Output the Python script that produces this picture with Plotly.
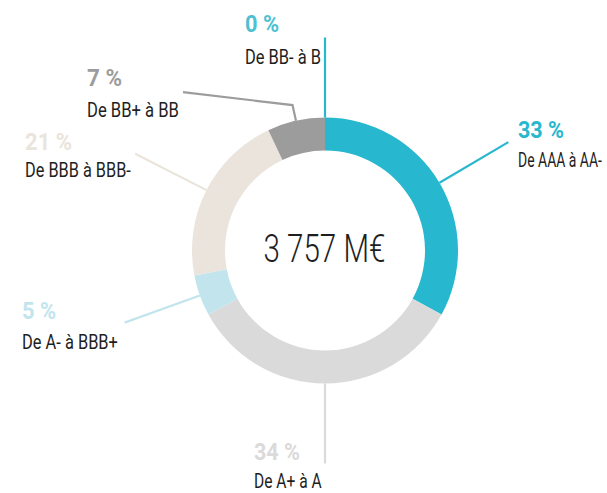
import json
import math
import plotly.graph_objects as go

# Répartition par notation
categories = ["De AAA à AA-", "De A+ à A", "De A- à BBB+", "De BBB à BBB-", "De BB+ à BB", "De BB- à B"]
values = [33, 34, 5, 21, 7, 0]
colors = ["#27b8cf", "#dadada", "#c2e5ed", "#eae4dc", "#9c9c9c", "#27b8cf"]
pct_colors = ["#27b8cf", "#dadada", "#c2e5ed", "#eae4dc", "#9c9c9c", "#4fbfd3"]
total_label = "3 757 M€"

W, H = 607, 493
CX, CY, R = 325, 250.5, 133
LEAD = 80  # leader line length (px)

FONT = "Roboto, Liberation Sans, sans-serif"

# label layout per category: left x, y of percentage, y of caption,
# set width of percentage and of caption (condensed typesetting)
label_pos = [
    (516, 130, 160, 46, 84),
    (252, 452, 481, 46, 68),
    (20, 311, 342, 34, 96),
    (23, 142, 170, 47, 106),
    (85, 78, 110, 35, 92),
    (243, 24, 57, 34, 76),
]
CENTER_WIDTH = 122


def px(x):
    return x / W


def py(y):
    return 1 - y / H


fig = go.Figure(go.Pie(
    labels=categories,
    values=values,
    hole=100 / 133,
    sort=False,
    direction="clockwise",
    rotation=0,
    marker=dict(colors=colors, line=dict(width=0)),
    textinfo="none",
    hoverinfo="label+percent",
    domain=dict(x=[px(CX - R), px(CX + R)], y=[py(CY + R), py(CY - R)]),
    showlegend=False,
))

shapes = []
annotations = []
fits = []
total = sum(values)
cum = 0
for i, (cat, v) in enumerate(zip(categories, values)):
    mid = (cum + v / 2) / total
    if v == 0 and cum >= total:
        mid = 0.0
    cum += v
    ang = 2 * math.pi * mid
    sx, sy = CX + R * math.sin(ang), CY - R * math.cos(ang)
    if cat == "De BB+ à BB":
        # short radial segment, then elbow toward the label
        ex, ey = CX + (R + 16) * math.sin(ang), CY - (R + 16) * math.cos(ang)
        fx, fy = label_pos[i][0] + 98, ey - 13
        path = f"M {px(sx)},{py(sy)} L {px(ex)},{py(ey)} L {px(fx)},{py(fy)}"
    else:
        ex, ey = CX + (R + LEAD) * math.sin(ang), CY - (R + LEAD) * math.cos(ang)
        path = f"M {px(sx)},{py(sy)} L {px(ex)},{py(ey)}"
    shapes.append(dict(type="path", xref="paper", yref="paper", path=path,
                       line=dict(color=colors[i], width=2.2)))
    lx, ly1, ly2, w1, w2 = label_pos[i]
    annotations.append(dict(x=px(lx), y=py(ly1), xref="paper", yref="paper",
                            text=f"<b>{v} %</b>", showarrow=False,
                            xanchor="left", yanchor="middle",
                            font=dict(family=FONT, size=24, color=pct_colors[i])))
    fits.append([w1, "0% 50%"])
    annotations.append(dict(x=px(lx), y=py(ly2), xref="paper", yref="paper",
                            text=cat, showarrow=False,
                            xanchor="left", yanchor="middle",
                            font=dict(family=FONT, size=21, color="#1e1e1e")))
    fits.append([w2, "0% 50%"])

annotations.append(dict(x=px(CX), y=py(CY - 2), xref="paper", yref="paper",
                        text=total_label, showarrow=False,
                        xanchor="center", yanchor="middle",
                        font=dict(family=FONT, size=38, color="#1e1e1e", weight=300)))
fits.append([CENTER_WIDTH, "50% 50%"])

fig.update_layout(
    width=W, height=H,
    margin=dict(l=0, r=0, t=0, b=0),
    paper_bgcolor="white",
    plot_bgcolor="white",
    shapes=shapes,
    annotations=annotations,
)

# condense each annotation horizontally to its set width, keeping its anchor edge
post_js = """
var fit = %s;
var gd = document.getElementById('{plot_id}');
gd.querySelectorAll('g.annotation').forEach(function (g) {
  var i = parseInt(g.getAttribute('data-index'));
  var t = g.querySelector('text');
  if (!t || !fit[i]) return;
  var w = t.getBBox().width;
  if (!w) return;
  t.style.transformBox = 'fill-box';
  t.style.transformOrigin = fit[i][1];
  t.style.transform = 'scaleX(' + (fit[i][0] / w) + ')';
});
""" % json.dumps(fits)

fig.write_html("out.html", post_script=post_js)
